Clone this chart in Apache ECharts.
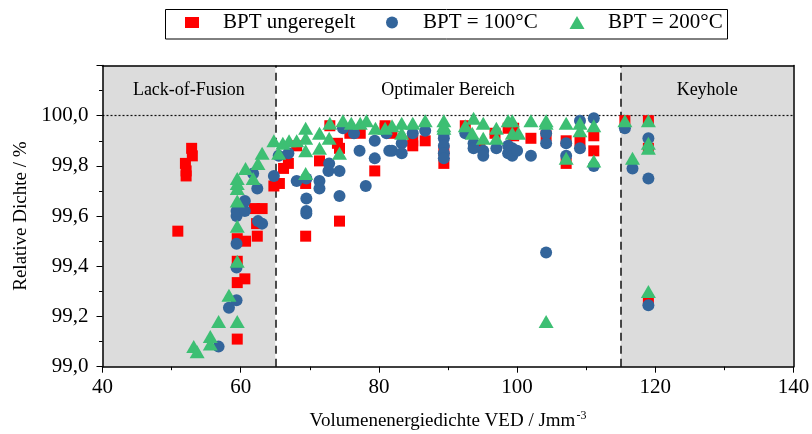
<!DOCTYPE html>
<html><head><meta charset="utf-8">
<script src="https://cdn.jsdelivr.net/npm/echarts@6/dist/echarts.min.js"></script>
<style>html,body{margin:0;padding:0;background:#fff}#c{width:812px;height:434px}</style>
</head><body><div id="c"></div>
<script>
const seriesNames = ['BPT ungeregelt', 'BPT = 100°C', 'BPT = 200°C'];
const xTickLabels = [40, 60, 80, 100, 120, 140];
const yTickLabels = ['99,0', '99,2', '99,4', '99,6', '99,8', '100,0'];
const regionLabels = ['Lack-of-Fusion', 'Optimaler Bereich', 'Keyhole'];
const regionBounds = [40, 65, 115, 140];

const redData = [[50.9,99.54],[52.0,99.81],[52.1,99.78],[52.1,99.76],[52.9,99.87],[53.0,99.84],
[59.5,99.51],[60.7,99.50],[62.4,99.52],[62.0,99.63],[63.1,99.63],[62.3,99.57],[59.5,99.42],[59.5,99.335],[60.6,99.35],[59.5,99.11],[64.8,99.72],[65.6,99.73],[66.2,99.79],[66.9,99.81],[68.1,99.88],[69.4,99.52],[69.4,99.73],[71.4,99.82],[74.3,99.58],[72.9,99.96],[74.0,99.89],[74.3,99.87],[79.4,99.78],[75.8,99.93],[77.3,99.93],[80.9,99.96],[80.9,99.95],[81.9,99.93],[84.9,99.9],[84.9,99.88],[86.7,99.9],[89.4,99.81],[89.4,99.86],[92.5,99.96],[94.6,99.88],[96.8,99.93],[98.7,99.95],[99.5,99.95],[99.5,99.92],[102.0,99.91],[104.2,99.92],[107.1,99.9],[107.1,99.81],[109.1,99.9],[111.1,99.92],[111.1,99.86],[115.6,99.98],[119.0,99.98],[119.0,99.87],[119.0,99.265]];

const blueData = [[56.8,99.08],[58.3,99.235],[59.4,99.265],[59.4,99.395],[59.4,99.49],[59.4,99.60],[59.4,99.62],[60.6,99.62],[60.6,99.66],[62.5,99.58],[63.1,99.57],[62.4,99.71],[61.8,99.77],[64.8,99.76],[65.5,99.84],[66.9,99.85],[68.1,99.74],[69.5,99.75],[69.5,99.67],[69.5,99.62],[69.5,99.61],[71.4,99.74],[71.4,99.71],[72.7,99.78],[72.8,99.81],[74.3,99.78],[74.3,99.68],[74.8,99.95],[76.4,99.93],[77.2,99.86],[78.1,99.72],[79.4,99.83],[79.4,99.90],[81.1,99.93],[81.5,99.86],[81.9,99.86],[83.3,99.89],[83.3,99.85],[84.9,99.93],[86.7,99.94],[89.4,99.93],[89.4,99.91],[89.4,99.88],[89.4,99.85],[89.4,99.83],[92.5,99.93],[93.7,99.89],[93.7,99.87],[95.1,99.86],[95.1,99.84],[97.0,99.87],[98.7,99.88],[98.7,99.85],[99.3,99.87],[99.3,99.84],[100.0,99.86],[102.0,99.84],[104.2,99.93],[104.2,99.89],[104.2,99.455],[107.1,99.89],[107.1,99.84],[109.1,99.98],[109.1,99.87],[111.1,99.99],[111.1,99.80],[115.6,99.95],[116.7,99.79],[119.0,99.91],[119.0,99.75],[119.0,99.245]];

const greenData = [[53.2,99.08],[53.7,99.06],[55.6,99.12],[55.6,99.09],[56.8,99.18],[58.3,99.285],[59.5,99.18],[59.5,99.42],[59.5,99.56],[59.5,99.66],[59.5,99.71],[59.5,99.73],[59.5,99.75],[60.7,99.79],[61.8,99.75],[62.5,99.81],[63.1,99.85],[64.8,99.90],[65.5,99.85],[66.1,99.89],[67.0,99.90],[68.1,99.90],[69.4,99.95],[69.4,99.91],[69.4,99.86],[69.4,99.77],[71.4,99.93],[71.4,99.87],[72.8,99.91],[74.3,99.85],[72.9,99.97],[74.8,99.98],[76.0,99.97],[77.3,99.97],[78.2,99.98],[79.5,99.95],[80.9,99.95],[81.9,99.96],[83.3,99.97],[83.3,99.93],[84.9,99.97],[86.7,99.98],[89.4,99.98],[89.4,99.96],[89.4,99.95],[92.5,99.96],[93.7,99.99],[93.5,99.93],[95.1,99.97],[95.1,99.91],[97.0,99.95],[97.0,99.91],[98.7,99.98],[99.3,99.98],[99.3,99.93],[100.2,99.93],[102.0,99.98],[104.2,99.98],[104.2,99.97],[104.2,99.18],[107.1,99.97],[107.1,99.83],[109.1,99.97],[109.1,99.94],[111.1,99.96],[111.1,99.82],[115.6,99.98],[116.7,99.83],[119.0,99.98],[119.0,99.89],[119.0,99.87],[119.0,99.30]];

const FONT = '"Liberation Serif", "Times New Roman", serif';
const chart = echarts.init(document.getElementById('c'), null, {renderer: 'canvas'});

function legendAt(name, left, icon, w, h, pad) {
  return {
    data: [{name: name, icon: icon}],
    left: left, top: 12, padding: 0,
    itemWidth: w, itemHeight: h,
    textStyle: {fontFamily: FONT, fontSize: 21, color: '#000', padding: [0, 0, 0, pad]}
  };
}

const regionLabelStyle = {show: true, position: 'insideTop', distance: 16, color: '#000', fontFamily: FONT, fontSize: 18};

const option = {
  backgroundColor: '#fff',
  animation: false,
  graphic: [{type: 'rect', shape: {x: 165.5, y: 9.5, width: 562, height: 29.5}, style: {fill: 'none', stroke: '#000', lineWidth: 1}, z: 100}],
  legend: [
    legendAt(seriesNames[0], 185, 'rect', 14, 11, 19),
    legendAt(seriesNames[1], 386, 'circle', 14, 12, 19),
    legendAt(seriesNames[2], 569.5, 'triangle', 15, 13, 18.5)
  ],
  grid: {left: 102.5, right: 18.5, top: 65.5, bottom: 67.3, containLabel: false, outerBoundsMode: 'none'},
  xAxis: [{
    type: 'value', min: 40, max: 140, interval: 20,
    name: 'Volumenenergiedichte VED / Jmm{sup|-3}',
    nameLocation: 'middle', nameGap: 43,
    nameTextStyle: {fontFamily: FONT, fontSize: 19, color: '#000', rich: {sup: {fontFamily: FONT, fontSize: 12, color: '#000', verticalAlign: 'top', padding: [0, 0, 10, 1]}}},
    axisLine: {lineStyle: {color: '#000', width: 1.5}},
    axisTick: {inside: false, length: 6, lineStyle: {color: '#000'}},
    minorTick: {show: true, splitNumber: 2, length: 3.5, lineStyle: {color: '#000'}},
    axisLabel: {fontFamily: FONT, fontSize: 21, color: '#000', margin: 10, formatter: v => xTickLabels.includes(v) ? String(v) : ''},
    splitLine: {show: false}, z: 10
  }, {
    type: 'value', min: 40, max: 140, position: 'top',
    axisLine: {show: true, lineStyle: {color: '#000', width: 1.5}},
    axisTick: {show: false}, axisLabel: {show: false}, splitLine: {show: false}, z: 10
  }],
  yAxis: [{
    type: 'value', min: 99, max: 100.2, interval: 0.2,
    name: 'Relative Dichte / %', nameLocation: 'middle', nameGap: 70, nameRotate: 90,
    nameTextStyle: {fontFamily: FONT, fontSize: 19, color: '#000'},
    axisLine: {show: true, lineStyle: {color: '#000', width: 1.5}},
    axisTick: {inside: false, length: 6, lineStyle: {color: '#000'}},
    minorTick: {show: true, splitNumber: 2, length: 3.5, lineStyle: {color: '#000'}},
    axisLabel: {fontFamily: FONT, fontSize: 21, color: '#000', margin: 14, formatter: v => {
      const i = Math.round((v - 99) / 0.2); return (i >= 0 && i < yTickLabels.length) ? yTickLabels[i] : ''; }},
    splitLine: {show: false}, z: 10
  }, {
    type: 'value', min: 99, max: 100.2, position: 'right',
    axisLine: {show: true, lineStyle: {color: '#000', width: 1.5}},
    axisTick: {show: false}, axisLabel: {show: false}, splitLine: {show: false}, z: 10
  }],
  series: [{
    name: seriesNames[0], type: 'scatter', symbol: 'rect', symbolSize: 11,
    itemStyle: {color: '#ff0000', opacity: 1}, data: redData, z: 3,
    markArea: {
      silent: true, z: 1,
      data: [
        [{xAxis: regionBounds[0], itemStyle: {color: '#dcdcdc'}, label: Object.assign({}, regionLabelStyle, {formatter: regionLabels[0]})}, {xAxis: regionBounds[1]}],
        [{xAxis: regionBounds[1], itemStyle: {color: 'rgba(0,0,0,0)'}, label: Object.assign({}, regionLabelStyle, {formatter: regionLabels[1]})}, {xAxis: regionBounds[2]}],
        [{xAxis: regionBounds[2], itemStyle: {color: '#dcdcdc'}, label: Object.assign({}, regionLabelStyle, {formatter: regionLabels[2]})}, {xAxis: regionBounds[3]}]
      ]
    },
    markLine: {
      silent: true, symbol: 'none', label: {show: false}, z: 2,
      data: [
        {xAxis: regionBounds[1], lineStyle: {color: '#111', type: [8, 5], width: 1.5}},
        {xAxis: regionBounds[2], lineStyle: {color: '#111', type: [8, 5], width: 1.5}},
        {yAxis: 100, lineStyle: {color: '#111', type: [2, 2], width: 1.2}}
      ]
    }
  }, {
    name: seriesNames[1], type: 'scatter', symbol: 'circle', symbolSize: 12,
    itemStyle: {color: '#33659b', opacity: 1}, data: blueData, z: 4
  }, {
    name: seriesNames[2], type: 'scatter', symbol: 'triangle', symbolSize: [15, 13],
    itemStyle: {color: '#3dbf73', opacity: 1}, data: greenData, z: 5
  }]
};
chart.setOption(option);
</script></body></html>
